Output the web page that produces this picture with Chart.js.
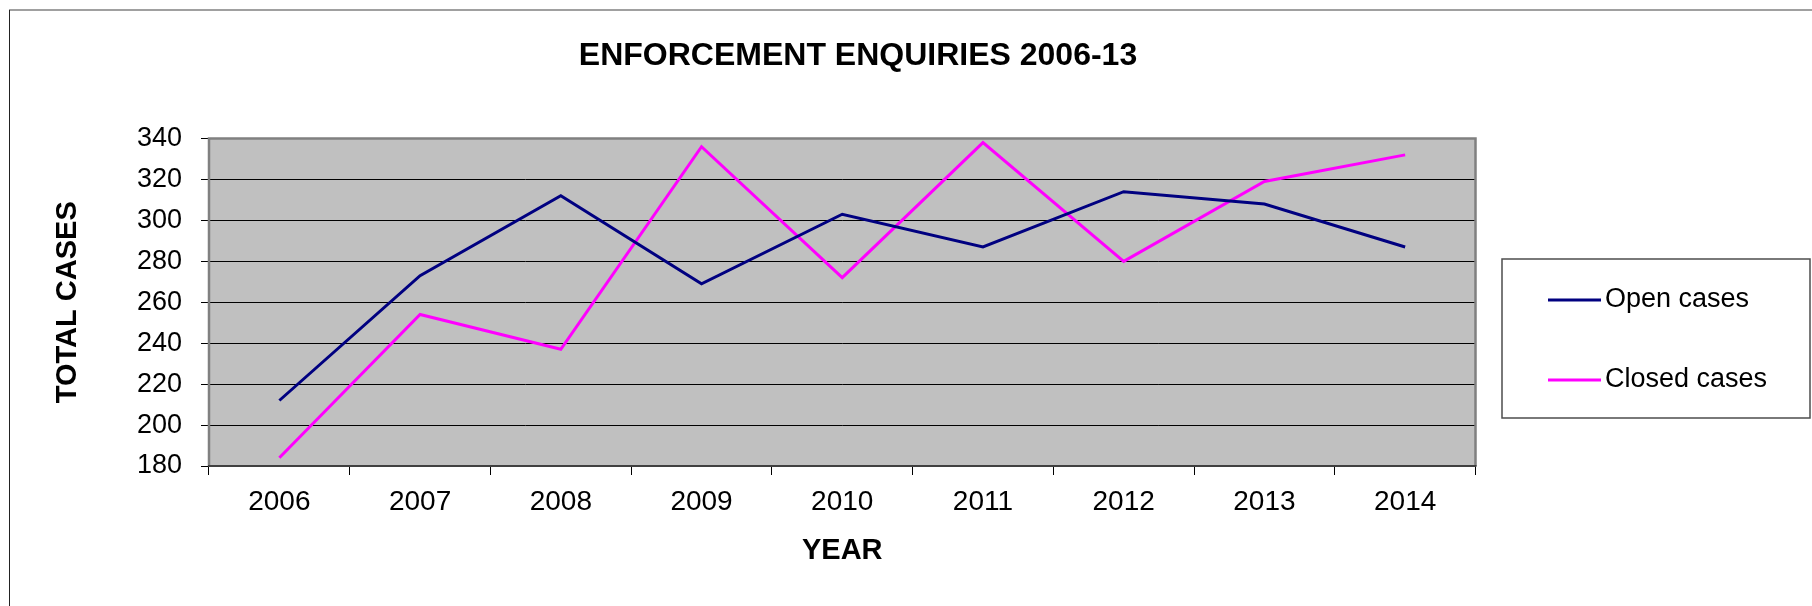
<!DOCTYPE html>
<html>
<head>
<meta charset="utf-8">
<script src="https://cdn.jsdelivr.net/npm/chart.js@4.4.1/dist/chart.umd.min.js"></script>
<style>
  html, body { margin: 0; padding: 0; background: #ffffff; }
  #wrap { position: relative; width: 1812px; height: 606px; }
  canvas { display: block; }
</style>
</head>
<body>
<div id="wrap"><canvas id="c" width="1812" height="606"></canvas></div>
<script>
// ---- data ----
const chartTitle = "ENFORCEMENT ENQUIRIES 2006-13";
const years = ["2006", "2007", "2008", "2009", "2010", "2011", "2012", "2013", "2014"];
const openCases = [212, 273, 312, 269, 303, 287, 314, 308, 287];
const closedCases = [184, 254, 237, 336, 272, 338, 280, 319, 332];
const seriesNames = ["Open cases", "Closed cases"];
const yTitle = "TOTAL CASES";
const xTitle = "YEAR";
const yMin = 180, yMax = 340, yStep = 20;

const FONT = "'Liberation Sans', Arial, sans-serif";

const framePlugin = {
  id: 'frame',
  beforeDraw(chart) {
    const {ctx, chartArea: a} = chart;
    ctx.save();
    ctx.fillStyle = '#ffffff';
    ctx.fillRect(0, 0, chart.width, chart.height);
    // outer chart border (top + left)
    ctx.strokeStyle = '#808080';
    ctx.lineWidth = 1.5;
    ctx.beginPath(); ctx.moveTo(9, 10); ctx.lineTo(chart.width, 10); ctx.stroke();
    ctx.strokeStyle = '#222222';
    ctx.lineWidth = 1;
    ctx.beginPath(); ctx.moveTo(9.5, 10); ctx.lineTo(9.5, chart.height); ctx.stroke();
    // plot area background
    ctx.fillStyle = '#C0C0C0';
    ctx.fillRect(a.left, a.top, a.right - a.left, a.bottom - a.top);
    ctx.restore();
  },
  beforeDatasetsDraw(chart) {
    const {ctx, chartArea: a} = chart;
    ctx.save();
    ctx.lineWidth = 2.5;
    ctx.strokeStyle = '#808080';
    ctx.beginPath();
    ctx.moveTo(a.left, a.bottom); ctx.lineTo(a.left, a.top);
    ctx.lineTo(a.right, a.top); ctx.lineTo(a.right, a.bottom);
    ctx.stroke();
    ctx.strokeStyle = '#404040';
    ctx.lineWidth = 2;
    ctx.beginPath(); ctx.moveTo(a.left - 1, a.bottom); ctx.lineTo(a.right + 1, a.bottom); ctx.stroke();
    ctx.restore();
  },
  afterDraw(chart) {
    const {ctx} = chart;
    ctx.save();
    // title
    ctx.fillStyle = '#000000';
    ctx.font = "bold 32px " + FONT;
    ctx.textAlign = 'center';
    ctx.textBaseline = 'middle';
    ctx.fillText(chartTitle, 858, 56);
    // legend
    const bx = 1502, by = 259, bw = 308, bh = 159;
    ctx.fillStyle = '#ffffff';
    ctx.fillRect(bx, by, bw, bh);
    ctx.strokeStyle = '#4d4d4d';
    ctx.lineWidth = 1.5;
    ctx.strokeRect(bx, by, bw, bh);
    const rows = [300, 380];
    chart.data.datasets.forEach((ds, i) => {
      const y = rows[i];
      ctx.strokeStyle = ds.borderColor;
      ctx.lineWidth = 3;
      ctx.beginPath(); ctx.moveTo(1548, y); ctx.lineTo(1601, y); ctx.stroke();
      ctx.fillStyle = '#000000';
      ctx.font = "27px " + FONT;
      ctx.textAlign = 'left';
      ctx.textBaseline = 'middle';
      ctx.fillText(ds.label, 1605, y);
    });
    ctx.restore();
  }
};

new Chart(document.getElementById('c'), {
  type: 'line',
  data: {
    labels: years,
    datasets: [
      { label: seriesNames[0], data: openCases, borderColor: '#000080', backgroundColor: '#000080',
        borderWidth: 3, pointRadius: 0, tension: 0, fill: false },
      { label: seriesNames[1], data: closedCases, borderColor: '#FF00FF', backgroundColor: '#FF00FF',
        borderWidth: 3, pointRadius: 0, tension: 0, fill: false }
    ]
  },
  options: {
    responsive: false,
    animation: false,
    devicePixelRatio: 1,
    layout: { padding: { left: 0, top: 138.5, right: 336.5, bottom: 0 } },
    plugins: {
      legend: { display: false },
      title: { display: false },
      tooltip: { enabled: false }
    },
    scales: {
      x: {
        type: 'category',
        offset: true,
        grid: { display: true, offset: true, drawOnChartArea: false, drawTicks: true,
                tickLength: 9, color: '#000000', lineWidth: 1 },
        border: { display: false },
        ticks: { color: '#000000', font: { family: FONT, size: 28 }, padding: 10, maxRotation: 0, autoSkip: false },
        title: { display: true, text: xTitle, color: '#000000',
                 font: { family: FONT, size: 29, weight: 'bold' }, padding: { top: 0, bottom: 37.6 } },
        afterFit(scale) { scale.height = 140; }
      },
      y: {
        min: yMin, max: yMax,
        grid: { display: true, drawOnChartArea: true, drawTicks: true, tickLength: 8,
                color: '#000000', lineWidth: 1 },
        border: { display: false },
        ticks: { stepSize: yStep, color: '#000000', font: { family: FONT, size: 27 }, padding: 19 },
        title: { display: true, text: yTitle, color: '#000000',
                 font: { family: FONT, size: 29, weight: 'bold' }, padding: { top: 50.6, bottom: 0 } },
        afterFit(scale) { scale.width = 209; }
      }
    }
  },
  plugins: [framePlugin]
});
</script>
</body>
</html>
